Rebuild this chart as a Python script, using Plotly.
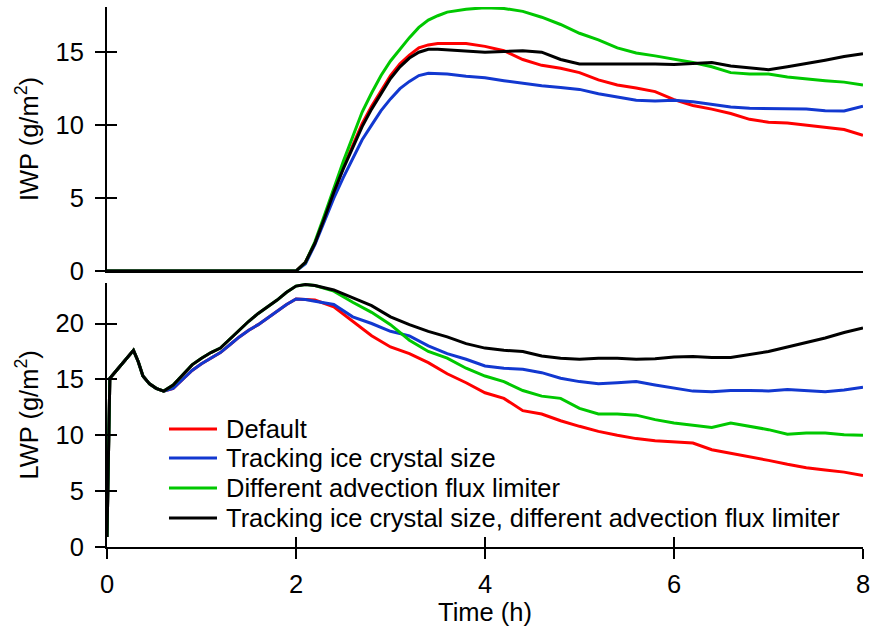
import plotly.graph_objects as go

# ---------------- data ----------------
series_names = [
    "Default",
    "Tracking ice crystal size",
    "Different advection flux limiter",
    "Tracking ice crystal size, different advection flux limiter",
]
series_colors = ["#ff0000", "#1238d0", "#00c800", "#000000"]

# IWP (top panel)
t_iwp = [0, 2.0, 2.1, 2.2, 2.3, 2.4, 2.5, 2.6, 2.7, 2.8, 2.9, 3.0, 3.1, 3.2, 3.3, 3.4,
         3.5, 3.6, 3.8, 4.0, 4.2, 4.4, 4.6, 4.8, 5.0, 5.2, 5.4, 5.6, 5.8, 6.0, 6.2,
         6.4, 6.6, 6.8, 7.0, 7.2, 7.4, 7.6, 7.8, 8.0]
iwp_default = [0, 0, 0.6, 1.9, 3.6, 5.4, 7.1, 8.6, 10.1, 11.3, 12.4, 13.4, 14.2, 14.8,
               15.3, 15.5, 15.6, 15.6, 15.6, 15.4, 15.1, 14.5, 14.1, 13.9, 13.6, 13.1,
               12.75, 12.55, 12.3, 11.75, 11.35, 11.1, 10.8, 10.4, 10.2, 10.15, 10.0,
               9.85, 9.7, 9.3]
iwp_tracking = [0, 0, 0.5, 1.8, 3.4, 5.0, 6.4, 7.7, 9.0, 10.0, 11.0, 11.8, 12.5, 13.0,
                13.4, 13.55, 13.55, 13.5, 13.35, 13.25, 13.05, 12.85, 12.7, 12.58, 12.45,
                12.15, 11.95, 11.7, 11.65, 11.7, 11.6, 11.4, 11.25, 11.15, 11.14, 11.14,
                11.1, 10.98, 10.97, 11.3]
iwp_limiter = [0, 0, 0.6, 2.0, 3.8, 5.7, 7.5, 9.2, 10.9, 12.2, 13.4, 14.4, 15.2, 16.0,
               16.7, 17.2, 17.5, 17.75, 17.95, 18.05, 18.0, 17.8, 17.4, 16.9, 16.3,
               15.85, 15.3, 14.95, 14.75, 14.55, 14.3, 14.0, 13.6, 13.5, 13.5, 13.3,
               13.15, 13.05, 12.95, 12.75]
iwp_both = [0, 0, 0.6, 1.9, 3.6, 5.4, 7.0, 8.5, 9.9, 11.1, 12.2, 13.2, 14.0, 14.6, 15.0,
            15.2, 15.2, 15.15, 15.05, 15.0, 15.05, 15.1, 15.0, 14.5, 14.2, 14.2, 14.2,
            14.25, 14.2, 14.15, 14.2, 14.3, 14.05, 13.9, 13.8, 14.0, 14.2, 14.45, 14.7,
            14.9]

# LWP (bottom panel)
t_lwp = [0, 0.03, 0.1, 0.2, 0.28, 0.33, 0.38, 0.45, 0.52, 0.6, 0.7, 0.8, 0.9, 1.0, 1.1,
         1.2, 1.3, 1.4, 1.5, 1.6, 1.7, 1.8, 1.9, 2.0, 2.1, 2.2, 2.4, 2.6, 2.8, 3.0, 3.2,
         3.4, 3.6, 3.8, 4.0, 4.2, 4.4, 4.6, 4.8, 5.0, 5.2, 5.4, 5.6, 5.8, 6.0, 6.2, 6.4,
         6.6, 6.8, 7.0, 7.2, 7.4, 7.6, 7.8, 8.0]
lwp_default = [0.9, 15.1, 15.8, 16.8, 17.6, 16.6, 15.3, 14.6, 14.2, 13.95, 14.2, 15.0,
               15.8, 16.4, 16.9, 17.4, 18.1, 18.8, 19.4, 19.9, 20.5, 21.1, 21.7, 22.2,
               22.15, 22.1, 21.5, 20.2, 18.9, 17.9, 17.3, 16.5, 15.5, 14.7, 13.8, 13.3,
               12.2, 11.9, 11.3, 10.8, 10.35, 10.0, 9.7, 9.5, 9.4, 9.3, 8.7, 8.4, 8.1,
               7.75, 7.4, 7.1, 6.9, 6.7, 6.4]
lwp_tracking = [0.9, 15.1, 15.8, 16.8, 17.6, 16.6, 15.3, 14.6, 14.2, 13.95, 14.2, 15.0,
                15.8, 16.4, 16.9, 17.4, 18.1, 18.8, 19.4, 19.9, 20.5, 21.1, 21.7, 22.2,
                22.15, 22.0, 21.7, 20.6, 20.0, 19.3, 18.9, 18.0, 17.3, 16.8, 16.2, 16.0,
                15.9, 15.6, 15.1, 14.8, 14.6, 14.7, 14.8, 14.5, 14.2, 13.95, 13.9, 14.0,
                14.0, 13.97, 14.1, 14.0, 13.9, 14.05, 14.3]
lwp_limiter = [0.9, 15.1, 15.8, 16.8, 17.6, 16.6, 15.3, 14.6, 14.2, 13.95, 14.5, 15.4,
               16.3, 16.9, 17.4, 17.8, 18.6, 19.4, 20.2, 20.9, 21.5, 22.1, 22.8, 23.35,
               23.5, 23.4, 22.9, 21.9, 21.0, 19.9, 18.5, 17.5, 16.9, 16.0, 15.3, 14.8,
               14.0, 13.5, 13.3, 12.4, 11.9, 11.9, 11.8, 11.4, 11.1, 10.9, 10.7, 11.1,
               10.8, 10.5, 10.1, 10.2, 10.2, 10.05, 10.0]
lwp_both = [0.9, 15.1, 15.8, 16.8, 17.6, 16.6, 15.3, 14.6, 14.2, 13.95, 14.5, 15.4, 16.3,
            16.9, 17.4, 17.8, 18.6, 19.4, 20.2, 20.9, 21.5, 22.1, 22.8, 23.35, 23.5, 23.4,
            23.0, 22.3, 21.6, 20.6, 19.9, 19.3, 18.8, 18.2, 17.8, 17.6, 17.5, 17.1, 16.9,
            16.8, 16.9, 16.9, 16.8, 16.85, 17.0, 17.05, 16.95, 16.95, 17.2, 17.5, 17.9,
            18.3, 18.7, 19.2, 19.6]

x_ticks = [0, 2, 4, 6, 8]
iwp_ticks = [0, 5, 10, 15]
lwp_ticks = [0, 5, 10, 15, 20]
x_range = [0, 8]
iwp_range = [0, 18.1]
lwp_range = [0, 23.65]

iwp_series = [iwp_default, iwp_tracking, iwp_limiter, iwp_both]
lwp_series = [lwp_default, lwp_tracking, lwp_limiter, lwp_both]

# ---------------- figure ----------------
FONT = "Liberation Sans, Arial, sans-serif"
FS = 25.5
fig = go.Figure()

for name, color, yv in zip(series_names, series_colors, iwp_series):
    fig.add_trace(go.Scatter(x=t_iwp, y=yv, mode="lines", name=name,
                             line=dict(color=color, width=3),
                             xaxis="x", yaxis="y", showlegend=False))
for name, color, yv in zip(series_names, series_colors, lwp_series):
    fig.add_trace(go.Scatter(x=t_lwp, y=yv, mode="lines", name=name,
                             line=dict(color=color, width=3),
                             xaxis="x2", yaxis="y2", showlegend=False))

# invisible helpers so that the inside-tick overlay axes are drawn
fig.add_trace(go.Scatter(x=[None], y=[None], xaxis="x3", yaxis="y2", showlegend=False, hoverinfo="skip"))
fig.add_trace(go.Scatter(x=[None], y=[None], xaxis="x", yaxis="y3", showlegend=False, hoverinfo="skip"))
fig.add_trace(go.Scatter(x=[None], y=[None], xaxis="x2", yaxis="y4", showlegend=False, hoverinfo="skip"))

top_dom = [0.5111, 1.0]
bot_dom = [0.0, 0.4894]
tickfont = dict(family=FONT, size=FS, color="black")

common_line = dict(showline=True, linecolor="black", linewidth=2, showgrid=False,
                   zeroline=False, tickcolor="black", tickwidth=2, automargin=False)
overlay_common = dict(ticklen=10, tickcolor="black", tickwidth=2, ticks="inside",
                      showticklabels=False, showline=False, showgrid=False,
                      zeroline=False, automargin=False)

# legend drawn inside the lower panel (line glyph + text per series)
legend_rows_y = [0.2185, 0.1648, 0.1093, 0.0537]
annotations = []
shapes = []
for name, color, ry in zip(series_names, series_colors, legend_rows_y):
    annotations.append(dict(text=name, xref="paper", yref="paper", x=0.1548, y=ry,
                            xanchor="left", yanchor="middle", showarrow=False,
                            font=dict(family=FONT, size=FS, color="black")))
    shapes.append(dict(type="line", xref="paper", yref="paper", x0=0.0820, x1=0.1455,
                       y0=ry, y1=ry, line=dict(color=color, width=3)))

fig.update_layout(
    width=871, height=630,
    margin=dict(l=107, r=8, t=7, b=83),
    paper_bgcolor="white", plot_bgcolor="white",
    font=dict(family=FONT, size=FS, color="black"),
    xaxis=dict(domain=[0, 1], anchor="y", range=x_range, showticklabels=False,
               ticks="", **common_line),
    yaxis=dict(domain=top_dom, anchor="x", range=iwp_range, tickvals=iwp_ticks,
               ticks="outside", ticklen=10, tickfont=tickfont, ticklabelstandoff=6,
               title=dict(text="IWP (g/m<sup>2</sup>)", font=dict(family=FONT, size=FS),
                          standoff=10),
               **common_line),
    xaxis2=dict(domain=[0, 1], anchor="y2", range=x_range, tickvals=x_ticks,
                ticks="outside", ticklen=10, tickfont=tickfont, ticklabelstandoff=3,
                title=dict(text="Time (h)", font=dict(family=FONT, size=FS), standoff=3),
                **common_line),
    yaxis2=dict(domain=bot_dom, anchor="x2", range=lwp_range, tickvals=lwp_ticks,
                ticks="outside", ticklen=10, tickfont=tickfont, ticklabelstandoff=6,
                title=dict(text="LWP (g/m<sup>2</sup>)", font=dict(family=FONT, size=FS),
                           standoff=10),
                **common_line),
    xaxis3=dict(overlaying="x2", anchor="y2", range=x_range, tickvals=x_ticks, **overlay_common),
    yaxis3=dict(overlaying="y", anchor="x", side="left", range=iwp_range, tickvals=iwp_ticks,
                **overlay_common),
    yaxis4=dict(overlaying="y2", anchor="x2", side="left", range=lwp_range, tickvals=lwp_ticks,
                **overlay_common),
    annotations=annotations,
    shapes=shapes,
    showlegend=False,
)

# remove the page's default body margin so the figure sits at the window origin
fig.write_html("out.html", config={"displayModeBar": False},
               post_script="document.body.style.margin='0px';")
